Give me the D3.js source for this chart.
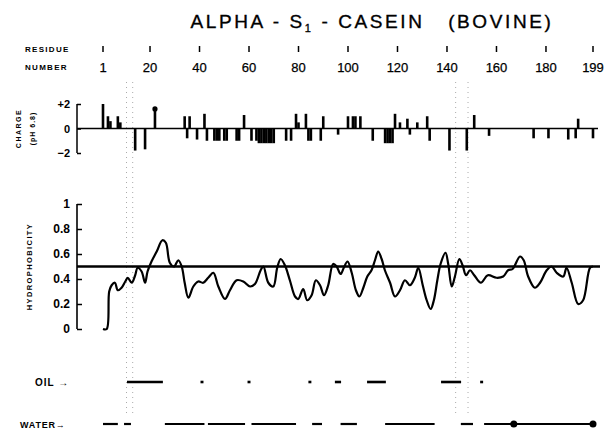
<!DOCTYPE html>
<html>
<head>
<meta charset="utf-8">
<script src="https://cdnjs.cloudflare.com/ajax/libs/d3/7.8.5/d3.min.js"></script>
<style>
  body { margin: 0; background: #fff; }
  svg { font-family: "Liberation Sans", "DejaVu Sans", sans-serif; }
</style>
</head>
<body>
<script>
// alpha-s1-casein profile: charge bars, hydrophobicity trace, oil / water rows

var residueTicks = [1, 20, 40, 60, 80, 100, 120, 140, 160, 180, 199];
var chargeTicks = [2, 0, -2];
var chargeTickLabels = ["+2", "0", "\u22122"];
var hydroTicks = [0, 0.2, 0.4, 0.6, 0.8, 1];
var hydroTickLabels = ["0", "0.2", "0.4", "0.6", "0.8", "1"];

// [residue, charge]
var charges = [
  [1, 2], [3, 1], [4, 0.6], [7, 1], [8, 0.5], [14, -1.8], [18, -1.7], [22, 1.6],
  [34, 1], [35, -0.8], [36, 1], [39, -0.9], [42, 1.2], [43, -1], [46, -1], [47, -1],
  [48, -1], [50, -1], [51, -1], [55, -1], [56, -1], [58, 1.1], [61, -1], [63, -1],
  [64, -1.2], [65, -1.2], [66, -1.2], [67, -1.2], [68, -1.2], [69, -1.2], [70, -1.2],
  [75, -1], [77, -1], [79, 1.2], [80, 0.5], [83, 1.2], [84, -1], [85, -1], [89, -1],
  [90, 1], [96, -0.5], [100, 1], [102, 1], [103, 1], [105, 1], [110, -1],
  [115, -1.2], [116, -1.2], [117, -1.2], [118, -1.2], [119, 1.2], [121, 0.5],
  [124, 0.8], [125, -0.5], [128, 0.5], [132, 1], [133, -1], [141, -1.8], [148, -1.8],
  [151, 1.1], [157, -0.6], [175, -0.8], [181, -0.8], [189, -0.9], [192, -0.8],
  [193, 0.8], [199, -0.8]
];
var chargeDots = [22];

// [residue, hydrophobicity]
var hydro = [
  [1, 0], [2.5, 0], [3.5, 0.3], [4.5, 0.35], [5.8, 0.37], [7, 0.31], [8.5, 0.33],
  [10, 0.38], [11, 0.41], [12.6, 0.37], [14, 0.43], [15, 0.49], [16.6, 0.46],
  [18, 0.37], [19, 0.46], [20.6, 0.54], [22.7, 0.62], [25, 0.71], [26.4, 0.69],
  [28, 0.53], [29.7, 0.5], [31.4, 0.55], [32.8, 0.5], [34, 0.37], [35.5, 0.25],
  [37.5, 0.34], [39.5, 0.38], [41.5, 0.37], [43.5, 0.41], [45.6, 0.45], [47.6, 0.34],
  [50.3, 0.24], [52.3, 0.31], [55, 0.39], [57.7, 0.38], [60.4, 0.34], [62.4, 0.36],
  [64.7, 0.47], [65.8, 0.5], [67.8, 0.37], [69.8, 0.34], [71.4, 0.49], [72.8, 0.56],
  [74.5, 0.51], [76.5, 0.39], [78.6, 0.26], [79.9, 0.24], [81.9, 0.32], [83.5, 0.23],
  [85.3, 0.27], [87, 0.39], [88.7, 0.35], [90.3, 0.27], [92, 0.35], [94, 0.52],
  [95.4, 0.5], [97, 0.44], [98.3, 0.49], [99.8, 0.54], [101.5, 0.45], [103.2, 0.31],
  [104.6, 0.26], [106.2, 0.33], [107.8, 0.42], [109.5, 0.47], [110.9, 0.55],
  [112.2, 0.62], [113.6, 0.56], [114.9, 0.47], [117, 0.37], [119, 0.26], [121, 0.31],
  [123, 0.39], [125, 0.35], [127, 0.41], [128.4, 0.49], [130.2, 0.35], [131.8, 0.23],
  [133.4, 0.16], [134.7, 0.23], [136.1, 0.39], [137.4, 0.52], [139.4, 0.61],
  [140.5, 0.52], [141.9, 0.34], [143.2, 0.42], [145, 0.56], [146.3, 0.51],
  [147.7, 0.43], [149.3, 0.47], [151, 0.43], [153.7, 0.37], [156.5, 0.43], [160, 0.41],
  [162.7, 0.42], [164.7, 0.47], [166.5, 0.48], [169.5, 0.58], [171, 0.55],
  [172.8, 0.42], [175.5, 0.33], [177.6, 0.37], [180.3, 0.47], [182.3, 0.5],
  [184.3, 0.45], [187, 0.42], [188.3, 0.49], [190.4, 0.37], [193, 0.2], [195, 0.23],
  [197.8, 0.49], [199, 0.5]
];
var hydroMean = 0.5;

// residue spans
var oilSegments = [[10.7, 25.2], [40.4, 41.6], [59.4, 60.6], [84, 85.2], [94.7, 97.2],
  [107.7, 115.3], [137.6, 145.7], [153.4, 154.6]];
var waterSegments = [[1, 7], [9.5, 12.3], [26, 42], [43.4, 58.4], [61, 79], [85.5, 89.5],
  [97, 103.6], [115, 135], [145.6, 150.5], [155, 199]];
var waterDots = [167, 199];
var foldLines = [10.5, 13, 143.5, 148.5];

var width = 612, height = 435;

var x = d3.scaleLinear().domain([1, 199]).range([103, 593]);
var yc = d3.scaleLinear().domain([-2, 2]).range([153, 104]);
var yh = d3.scaleLinear().domain([0, 1]).range([329, 204]);

var svg = d3.select("body").append("svg")
    .attr("width", width)
    .attr("height", height);

// faint fold / guide lines of the scan
svg.selectAll(".fold")
    .data(foldLines)
    .enter().append("line")
    .attr("x1", d => x(d)).attr("x2", d => x(d))
    .attr("y1", 82).attr("y2", 416)
    .style("stroke", "#aaa")
    .style("stroke-width", 1)
    .style("stroke-dasharray", "1,4");

// title
var title = svg.append("text")
    .attr("x", 372).attr("y", 28)
    .attr("text-anchor", "middle")
    .style("font-size", "19px")
    .style("letter-spacing", "2.6px")
    .style("white-space", "pre")
    .style("fill", "#000")
    .style("stroke", "#000")
    .style("stroke-width", 0.35);
title.append("tspan").text("ALPHA - S");
title.append("tspan").attr("dy", 4).style("font-size", "11px").text("1");
title.append("tspan").attr("dy", -4).text(" - CASEIN   (BOVINE)");

// residue number row
svg.append("text").attr("x", 25).attr("y", 52)
    .style("font-size", "8px").style("font-weight", "bold").style("letter-spacing", "1.3px")
    .text("RESIDUE");
svg.append("text").attr("x", 25).attr("y", 70)
    .style("font-size", "8px").style("font-weight", "bold").style("letter-spacing", "1.3px")
    .text("NUMBER");

svg.selectAll(".rtick")
    .data(residueTicks)
    .enter().append("line")
    .attr("x1", d => x(d)).attr("x2", d => x(d))
    .attr("y1", 46).attr("y2", 52)
    .style("stroke", "#000")
    .style("stroke-width", 1.5);

svg.selectAll(".rlabel")
    .data(residueTicks)
    .enter().append("text")
    .attr("x", d => x(d)).attr("y", 72)
    .attr("text-anchor", "middle")
    .style("font-size", "13px")
    .style("stroke", "#000")
    .style("stroke-width", 0.25)
    .text(d => d);

// charge panel
var chargeAxis = svg.append("g")
    .attr("transform", "translate(77,0)")
    .call(d3.axisLeft(yc).tickValues(chargeTicks).tickSize(-4).tickPadding(7)
      .tickFormat((d, i) => chargeTickLabels[i]));
chargeAxis.select(".domain").remove();
chargeAxis.append("line")
    .attr("y1", yc(2)).attr("y2", yc(-2))
    .style("stroke", "#000").style("stroke-width", 1.5);
chargeAxis.selectAll(".tick line").style("stroke-width", 1.5);
chargeAxis.selectAll("text").style("font-size", "11px").style("fill", "#000")
    .style("font-weight", "bold")
    .style("font-family", "Liberation Sans, sans-serif");

svg.append("text")
    .attr("transform", "translate(21," + yc(0) + ") rotate(-90)")
    .attr("text-anchor", "middle")
    .style("font-size", "7px").style("font-weight", "bold").style("letter-spacing", "1.5px")
    .text("CHARGE");
svg.append("text")
    .attr("transform", "translate(35," + yc(0) + ") rotate(-90)")
    .attr("text-anchor", "middle")
    .style("font-size", "7px").style("font-weight", "bold").style("letter-spacing", "1px")
    .text("(pH 6.8)");

svg.append("line")
    .attr("x1", 77).attr("x2", 598)
    .attr("y1", yc(0)).attr("y2", yc(0))
    .style("stroke", "#000").style("stroke-width", 1.6);

svg.selectAll(".cbar")
    .data(charges)
    .enter().append("rect")
    .attr("x", d => x(d[0]) - 1.3)
    .attr("width", 2.6)
    .attr("y", d => yc(Math.max(0, d[1])))
    .attr("height", d => Math.abs(yc(d[1]) - yc(0)))
    .style("fill", "#000");

svg.selectAll(".cdot")
    .data(charges.filter(d => chargeDots.indexOf(d[0]) >= 0))
    .enter().append("circle")
    .attr("cx", d => x(d[0]))
    .attr("cy", d => yc(d[1]))
    .attr("r", 2.6)
    .style("fill", "#000");

// hydrophobicity panel
var hydroAxis = svg.append("g")
    .attr("transform", "translate(77,0)")
    .call(d3.axisLeft(yh).tickValues(hydroTicks).tickSize(-5).tickPadding(7)
      .tickFormat((d, i) => hydroTickLabels[i]));
hydroAxis.select(".domain").remove();
hydroAxis.append("line")
    .attr("y1", yh(1)).attr("y2", yh(0))
    .style("stroke", "#000").style("stroke-width", 1.6);
hydroAxis.selectAll(".tick line").style("stroke-width", 1.5);
hydroAxis.selectAll("text").style("font-size", "12px").style("fill", "#000")
    .style("font-weight", "bold")
    .style("font-family", "Liberation Sans, sans-serif");

svg.append("text")
    .attr("transform", "translate(32," + yh(0.5) + ") rotate(-90)")
    .attr("text-anchor", "middle")
    .style("font-size", "7.5px").style("font-weight", "bold").style("letter-spacing", "1.4px")
    .text("HYDROPHOBICITY");

svg.append("line")
    .attr("x1", 77).attr("x2", 600)
    .attr("y1", yh(hydroMean)).attr("y2", yh(hydroMean))
    .style("stroke", "#000").style("stroke-width", 2.6);

var line = d3.line()
    .x(d => x(d[0]))
    .y(d => yh(d[1]))
    .curve(d3.curveCatmullRom.alpha(0.5));

svg.append("path")
    .datum(hydro)
    .attr("d", line)
    .style("fill", "none")
    .style("stroke", "#000")
    .style("stroke-width", 2.2)
    .style("stroke-linejoin", "round");

// oil / water rows
var oilY = 382, waterY = 424;

svg.append("text").attr("x", 35).attr("y", oilY + 3.5)
    .style("font-size", "10px").style("font-weight", "bold").style("letter-spacing", "1px")
    .text("OIL \u2192");
svg.append("text").attr("x", 20).attr("y", waterY + 3.5)
    .style("font-size", "9px").style("font-weight", "bold").style("letter-spacing", "0.8px")
    .text("WATER\u2192");

svg.selectAll(".oil")
    .data(oilSegments)
    .enter().append("line")
    .attr("x1", d => x(d[0])).attr("x2", d => x(d[1]))
    .attr("y1", oilY).attr("y2", oilY)
    .style("stroke", "#000").style("stroke-width", 2.6);

svg.selectAll(".water")
    .data(waterSegments)
    .enter().append("line")
    .attr("x1", d => x(d[0])).attr("x2", d => x(d[1]))
    .attr("y1", waterY).attr("y2", waterY)
    .style("stroke", "#000").style("stroke-width", 2.2);

svg.selectAll(".wdot")
    .data(waterDots)
    .enter().append("circle")
    .attr("cx", d => x(d)).attr("cy", waterY)
    .attr("r", 3.5)
    .style("fill", "#000");
</script>
</body>
</html>
